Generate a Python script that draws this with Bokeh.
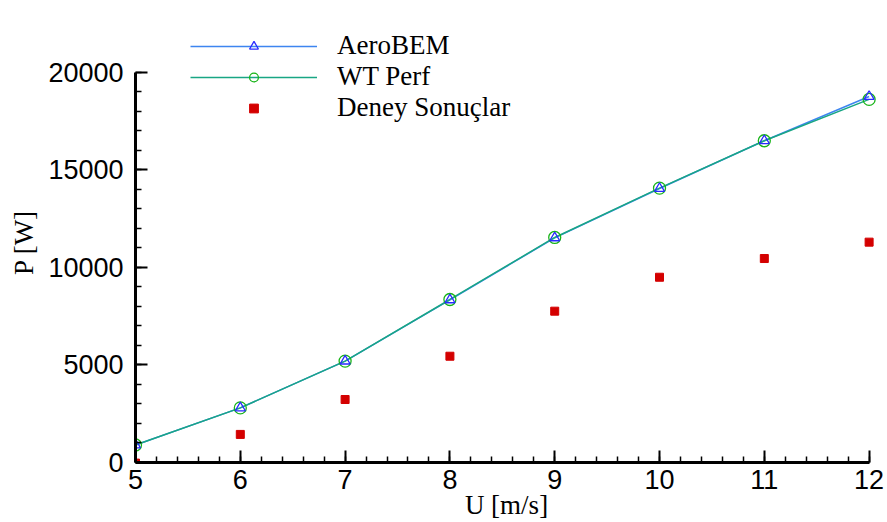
from bokeh.plotting import figure
from bokeh.models import Legend, LegendItem, FixedTicker, Range1d
from bokeh.embed import file_html
from bokeh.resources import INLINE

# wind speed [m/s]
u = [5, 6, 7, 8, 9, 10, 11, 12]
# power [W]
aerobem = [900, 2800, 5200, 8340, 11520, 14050, 16500, 18770]
wtperf = [900, 2800, 5200, 8360, 11540, 14070, 16500, 18620]
deney = [-30, 1440, 3230, 5450, 7760, 9500, 10460, 11300]

x_ticks = [5, 6, 7, 8, 9, 10, 11, 12]
y_ticks = [0, 5000, 10000, 15000, 20000]

p = figure(width=887, height=522, output_backend="svg", toolbar_location=None,
           x_range=Range1d(5, 12.08), y_range=Range1d(0, 22564),
           min_border_left=135, min_border_top=22, min_border_right=10,
           min_border_bottom=60)
p.outline_line_color = None
p.grid.visible = False
p.background_fill_color = "white"
p.border_fill_color = "white"

l1 = p.line(u, aerobem, line_color="#3d85f0", line_width=1.5)
l2 = p.line(u, wtperf, line_color="#19a684", line_width=1.5)
c2 = p.scatter(u, wtperf, marker="circle", size=12, line_color="#18b418",
               fill_color=None, line_width=1.3)
t1 = p.scatter(u, aerobem, marker="triangle", size=10, line_color="#2a2aff",
               fill_color=None, line_width=1.3)
sq = p.scatter(u, deney, marker="square", size=8, line_color="#d40000",
               fill_color="#d40000")

minor_x = [5 + i * 0.2 for i in range(36)]
minor_y = [i * 1000 for i in range(21)]
p.xaxis.ticker = FixedTicker(ticks=x_ticks, minor_ticks=minor_x)
p.yaxis.ticker = FixedTicker(ticks=y_ticks, minor_ticks=minor_y)
p.xaxis.bounds = (5, 12)
p.yaxis.bounds = (0, 20000)

for ax in (p.xaxis[0], p.yaxis[0]):
    ax.axis_line_width = 3
    ax.axis_line_color = "black"
    ax.major_tick_in = 12
    ax.major_tick_out = 0
    ax.minor_tick_in = 6
    ax.minor_tick_out = 0
    ax.major_tick_line_width = 2
    ax.minor_tick_line_width = 1.5
    ax.major_tick_line_color = "black"
    ax.minor_tick_line_color = "black"
    ax.major_label_text_font = "Liberation Sans"
    ax.major_label_text_font_size = "27px"
    ax.major_label_text_color = "black"
    ax.axis_label_text_font = "Liberation Serif"
    ax.axis_label_text_font_size = "27px"
    ax.axis_label_text_font_style = "normal"
    ax.axis_label_text_color = "black"

p.xaxis.axis_label = "U [m/s]"
p.yaxis.axis_label = "P [W]"
p.xaxis.major_label_standoff = 7
p.yaxis.major_label_standoff = 12
p.xaxis.axis_label_standoff = -2
p.yaxis.axis_label_standoff = 6

legend = Legend(items=[
    LegendItem(label="AeroBEM", renderers=[l1, t1]),
    LegendItem(label="WT Perf", renderers=[l2, c2]),
    LegendItem(label="Deney Sonuçlar", renderers=[sq]),
], location=(55, 339))
legend.glyph_width = 127
legend.glyph_height = 22
legend.label_height = 31
legend.spacing = 0
legend.padding = 0
legend.margin = 0
legend.label_standoff = 20
legend.border_line_color = None
legend.background_fill_alpha = 0
legend.label_text_font = "Liberation Serif"
legend.label_text_font_size = "27px"
legend.label_text_color = "black"
p.add_layout(legend, "center")

open("out.html", "w").write(file_html(p, INLINE))
